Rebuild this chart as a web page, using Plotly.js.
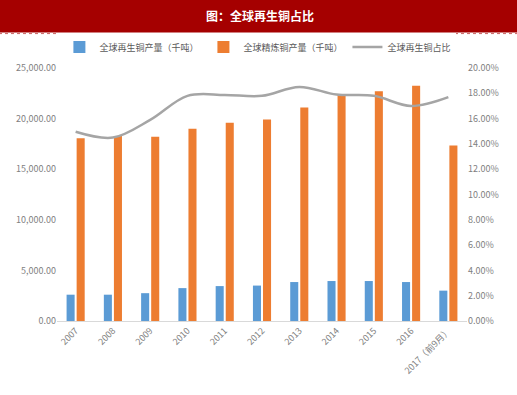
<!DOCTYPE html>
<html><head><meta charset="utf-8">
<script src="https://cdn.plot.ly/plotly-3.0.1.min.js"></script>
<style>html,body{margin:0;padding:0;background:#fff;}#chart{width:517px;height:395px;}</style>
</head><body><div id="chart"></div>
<script>
var categories = ["2007","2008","2009","2010","2011","2012","2013","2014","2015","2016","2017（前9月）"];
var recycled = [2600, 2600, 2750, 3250, 3450, 3500, 3850, 3950, 3950, 3850, 3000];
var refined = [18050, 18280, 18200, 19000, 19600, 19900, 21100, 22400, 22700, 23250, 17350];
var share = [14.96, 14.5, 15.9, 17.8, 17.87, 17.8, 18.5, 17.9, 17.8, 17.0, 17.7];
var leftTicks = [0, 5000, 10000, 15000, 20000, 25000];
var leftTickText = ["0.00","5,000.00","10,000.00","15,000.00","20,000.00","25,000.00"];
var rightTicks = [0,2,4,6,8,10,12,14,16,18,20];
var rightTickText = rightTicks.map(function(v){return v.toFixed(2)+"%";});

var font = "Microsoft YaHei, 'Noto Sans CJK SC', sans-serif";
var data = [
  {type:"bar", name:"全球再生铜产量（千吨）", x:categories, y:recycled, marker:{color:"#5B9BD5"}},
  {type:"bar", name:"全球精炼铜产量（千吨）", x:categories, y:refined, marker:{color:"#ED7D31"}},
  {type:"scatter", mode:"lines", name:"全球再生铜占比", x:categories, y:share, yaxis:"y2",
   line:{color:"#A5A5A5", width:2.5, shape:"spline", smoothing:1}}
];
var layout = {
  width:517, height:395,
  margin:{l:57, r:50, t:68, b:74},
  paper_bgcolor:"#fff", plot_bgcolor:"#fff",
  font:{family:font, color:"#595959", size:9},
  barmode:"group", bargap:0.46, bargroupgap:0.2,
  showlegend:true,
  legend:{orientation:"h", x:0.49, xanchor:"center", y:1.083, yanchor:"middle", yref:"paper",
          font:{size:9, color:"#595959"}, itemwidth:30},
  xaxis:{type:"category", tickangle:-45, showgrid:false, showline:true, linecolor:"#D9D9D9", ticks:"",
         tickfont:{size:9, color:"#7F7F7F"}},
  yaxis:{range:[0,25000], tickvals:leftTicks, ticktext:leftTickText, showgrid:false,
         zeroline:false, showline:false, tickfont:{size:9, color:"#7F7F7F"}},
  yaxis2:{range:[0,20], overlaying:"y", side:"right", tickvals:rightTicks, ticktext:rightTickText,
          showgrid:false, zeroline:false, showline:false, tickfont:{size:9, color:"#7F7F7F"}},
  shapes:[
    {type:"rect", xref:"paper", yref:"paper", x0:-0.2, x1:1.2, y0:1.14, y1:1.3, fillcolor:"#A50000", line:{width:0}, layer:"below"},
    {type:"line", xref:"paper", yref:"paper", x0:-0.2, x1:1.2, y0:1.136, y1:1.136, line:{color:"#C86464", width:1, dash:"dot"}}
  ],
  annotations:[
    {text:"<b>图：全球再生铜占比</b>", xref:"paper", yref:"paper", x:0.495, y:1.206, showarrow:false,
     xanchor:"center", yanchor:"middle", font:{size:12, color:"#ffffff", family:font}}
  ]
};
Plotly.newPlot("chart", data, layout, {displayModeBar:false, staticPlot:true});
</script></body></html>
